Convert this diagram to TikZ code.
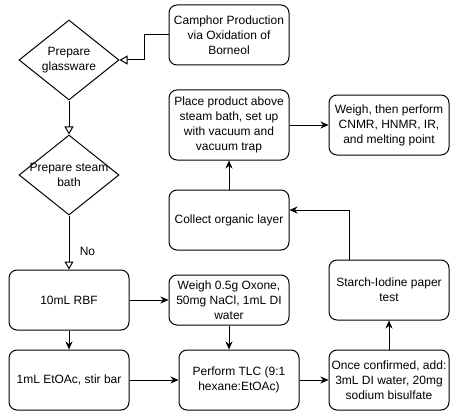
\documentclass[tikz,border=0pt]{standalone}
\usepackage{fontspec}
\setmainfont{Liberation Sans}
\usetikzlibrary{positioning}
\usetikzlibrary{arrows.meta}
\usetikzlibrary{shapes.geometric}

\begin{document}
\begin{tikzpicture}[x=1pt, y=-1pt,
    font=\fontsize{12}{15}\selectfont,
    stepbox/.style={draw, line width=1pt, rounded corners=8pt, minimum width=120pt, minimum height=60pt, align=center, inner sep=0pt},
    choice/.style={draw, line width=1pt, diamond, minimum width=100pt, minimum height=80pt, inner sep=0pt},
    flow/.style={line width=1pt, -{Stealth[length=8pt, width=7pt]}},
    openflow/.style={line width=1pt, -{Triangle[open, length=8pt, width=9pt]}}]

    % Fix the page size
    \useasboundingbox (0,0) rectangle (466,420);

    % Decisions
    \node[choice, label={[align=center]center:Prepare\\glassware}] (glass) at (69,60) {};
    \node[choice, label={[align=center]center:Prepare steam\\bath}] (steam) at (69,175) {};

    % Steps
    \node[stepbox] (camphor) at (229,35) {Camphor Production\\via Oxidation of\\Borneol};
    \node[stepbox, minimum height=70pt] (place) at (229,125) {Place product above\\steam bath, set up\\with vacuum and\\vacuum trap};
    \node[stepbox] (analysis) at (389,125) {Weigh, then perform\\CNMR, HNMR, IR,\\and melting point};
    \node[stepbox] (collect) at (229,220) {Collect organic layer};
    \node[stepbox] (rbf) at (69,300) {10mL RBF};
    \node[stepbox, minimum height=50pt] (weigh) at (229,300) {Weigh 0.5g Oxone,\\50mg NaCl, 1mL DI\\water};
    \node[stepbox] (starch) at (389,290) {Starch-Iodine paper\\test};
    \node[stepbox] (etoac) at (69,380) {1mL EtOAc, stir bar};
    \node[stepbox] (tlc) at (239,380) {Perform TLC (9:1\\hexane:EtOAc)};
    \node[stepbox] (confirm) at (389,380) {Once confirmed, add:\\3mL DI water, 20mg\\sodium bisulfate};

    % Connectors
    \draw[openflow] (camphor.west) -- ++(-24,0) |- (glass.east);
    \draw[openflow] (glass) -- (steam);
    \draw[openflow] (steam) -- node[right, pos=0.67, xshift=7pt] {No} (rbf);
    \draw[flow] (rbf) -- (weigh);
    \draw[flow] (rbf) -- (etoac);
    \draw[flow] (weigh.south) -- (weigh.south |- tlc.north);
    \draw[flow] (etoac) -- (tlc);
    \draw[flow] (tlc) -- (confirm);
    \draw[flow] (confirm) -- (starch);
    \draw[flow] ([xshift=-40pt]starch.north) |- ([yshift=10pt]collect.east);
    \draw[flow] (collect) -- (place);
    \draw[flow] (place) -- (analysis);

\end{tikzpicture}
\end{document}
